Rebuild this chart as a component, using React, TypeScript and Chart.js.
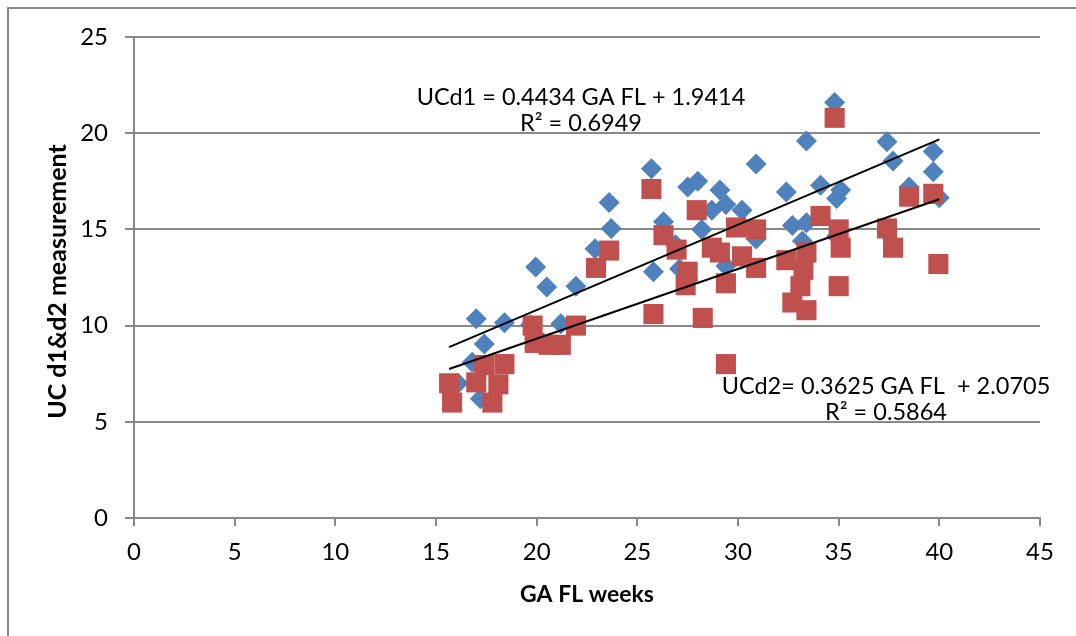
import React, { useEffect, useRef } from "react";
import { Chart, registerables } from "chart.js";

Chart.register(...registerables);

// GA FL weeks (x) and UC d1 measurement (y)
const d1X = [16.1, 16.8, 17.0, 17.4, 17.2, 18.4, 19.7, 21.2, 19.95, 20.5, 21.95, 22.9, 23.6, 23.7, 25.7, 25.8, 26.3, 26.9, 27.1, 27.5, 28.0, 28.2, 28.7, 29.1, 29.4, 29.4, 30.2, 30.9, 30.9, 32.4, 32.7, 33.2, 33.4, 33.4, 34.1, 34.8, 34.9, 34.9, 35.1, 37.4, 37.7, 38.5, 39.7, 39.7, 40.0];
const d1Y = [7.0, 8.1, 10.35, 9.05, 6.2, 10.15, 10.05, 10.1, 13.05, 12.0, 12.05, 14.0, 16.4, 15.05, 18.15, 12.8, 15.4, 14.2, 12.95, 17.2, 17.5, 15.0, 16.0, 17.05, 16.3, 13.1, 16.0, 18.4, 14.5, 16.95, 15.2, 14.4, 15.35, 19.6, 17.3, 21.6, 16.6, 14.65, 17.05, 19.55, 18.55, 17.2, 19.05, 18.0, 16.65];

// GA FL weeks (x) and UC d2 measurement (y)
const d2X = [15.65, 15.8, 17.0, 17.4, 18.4, 18.1, 17.8, 19.8, 19.9, 20.6, 21.2, 21.95, 22.95, 23.6, 25.7, 25.8, 26.3, 26.95, 27.5, 27.4, 27.95, 28.25, 28.7, 29.1, 29.4, 29.4, 29.9, 30.2, 30.9, 30.9, 32.4, 32.7, 33.1, 33.25, 33.4, 33.4, 34.1, 34.8, 35.0, 35.1, 35.0, 37.4, 37.7, 38.5, 39.7, 39.95];
const d2Y = [7.0, 6.0, 7.05, 7.95, 8.0, 6.95, 6.0, 10.0, 9.1, 9.0, 9.0, 10.0, 13.0, 13.9, 17.1, 10.6, 14.7, 13.95, 12.8, 12.1, 16.0, 10.4, 14.05, 13.8, 12.2, 8.0, 15.1, 13.6, 15.0, 13.0, 13.4, 11.2, 12.05, 12.9, 13.8, 10.8, 15.7, 20.8, 15.0, 14.05, 12.05, 15.05, 14.05, 16.7, 16.85, 13.2];

// Linear trend lines shown on the chart: [slope, intercept], over the data range
const trend1 = [0.4434, 1.9414];
const trend2 = [0.3625, 2.0705];
const trendRange = [15.65, 40.0];

const xTicks = [0, 5, 10, 15, 20, 25, 30, 35, 40, 45];
const yTicks = [0, 5, 10, 15, 20, 25];

const xTitle = "GA FL weeks";
const yTitle = "UC d1&d2 measurement";

const eq1 = ["UCd1 = 0.4434 GA FL + 1.9414", "R\u00B2 = 0.6949"];
const eq2 = ["UCd2= 0.3625 GA FL  + 2.0705", "R\u00B2 = 0.5864"];
// anchor positions (data units) for equation labels
const eq1Pos = [22.2, 21.85];
const eq2Pos = [37.35, 6.83];

const FONT = "Lato";
const GRID = "#888888";

function pts(xs: number[], ys: number[]) {
  return xs.map((x, i) => ({ x, y: ys[i] }));
}
function trendPts(c: number[]) {
  return trendRange.map((x) => ({ x, y: c[0] * x + c[1] }));
}

const labelPlugin = {
  id: "eqLabels",
  afterDatasetsDraw(chart: any) {
    const { ctx, scales, chartArea } = chart;
    const sx = scales.x;
    const sy = scales.y;
    ctx.save();
    ctx.fillStyle = "#000";
    ctx.font = `23.5px ${FONT}`;
    ctx.textAlign = "center";
    ctx.textBaseline = "middle";
    const draw = (lines: string[], pos: number[]) => {
      const x = sx.getPixelForValue(pos[0]);
      const y = sy.getPixelForValue(pos[1]);
      lines.forEach((t, i) => ctx.fillText(t, x, y + i * 25.5));
    };
    draw(eq1, eq1Pos);
    draw(eq2, eq2Pos);
    // vertical axis title
    ctx.font = `bold 25px ${FONT}`;
    ctx.translate(chartArea.left - 76, (chartArea.top + chartArea.bottom) / 2 + 4);
    ctx.rotate(-Math.PI / 2);
    ctx.fillText(yTitle, 0, 0);
    ctx.restore();
  },
};

export default function App() {
  const ref = useRef<HTMLCanvasElement>(null);
  useEffect(() => {
    if (!ref.current) return;
    const chart = new Chart(ref.current, {
      type: "scatter",
      data: {
        datasets: [
          {
            type: "line",
            label: "trend d1",
            data: trendPts(trend1),
            borderColor: "#000",
            borderWidth: 2,
            pointRadius: 0,
            order: 0,
          } as any,
          {
            type: "line",
            label: "trend d2",
            data: trendPts(trend2),
            borderColor: "#000",
            borderWidth: 2,
            pointRadius: 0,
            order: 0,
          } as any,
          {
            label: "UC d2",
            data: pts(d2X, d2Y),
            pointStyle: "rect",
            pointRadius: 14.2,
            backgroundColor: "#C0504D",
            borderColor: "#C0504D",
            borderWidth: 0,
            order: 1,
          },
          {
            label: "UC d1",
            data: pts(d1X, d1Y),
            pointStyle: "rectRot",
            pointRadius: 10.5,
            backgroundColor: "#4F81BD",
            borderColor: "#4F81BD",
            borderWidth: 0,
            order: 2,
          },
        ],
      },
      options: {
        responsive: false,
        animation: false,
        layout: { padding: { left: 0, top: 37, right: 36, bottom: 0 } },
        plugins: { legend: { display: false }, tooltip: { enabled: false } },
        scales: {
          x: {
            type: "linear",
            min: 0,
            max: 45,
            afterBuildTicks: (s: any) => {
              s.ticks = xTicks.map((v) => ({ value: v }));
            },
            afterFit: (s: any) => {
              s.height = 118;
            },
            grid: {
              display: true,
              drawOnChartArea: false,
              drawTicks: true,
              tickLength: 8,
              color: GRID,
              lineWidth: 2,
            },
            border: { display: true, color: GRID, width: 2 },
            ticks: {
              padding: 12,
              color: "#000",
              font: { family: FONT, size: 24 },
              maxRotation: 0,
            },
            title: {
              display: true,
              text: xTitle,
              color: "#000",
              font: { family: FONT, size: 23, weight: "bold" },
              padding: { top: 0, bottom: 28 },
            },
          },
          y: {
            type: "linear",
            min: 0,
            max: 25,
            afterBuildTicks: (s: any) => {
              s.ticks = yTicks.map((v) => ({ value: v }));
            },
            afterFit: (s: any) => {
              s.width = 134;
            },
            grid: {
              display: true,
              drawOnChartArea: true,
              drawTicks: true,
              tickLength: 9,
              color: GRID,
              lineWidth: 2,
            },
            border: { display: true, color: GRID, width: 2 },
            ticks: {
              padding: 17,
              color: "#000",
              font: { family: FONT, size: 24 },
            },
            title: { display: false },
          },
        },
      },
      plugins: [labelPlugin],
    });
    return () => chart.destroy();
  }, []);

  return (
    <div style={{ position: "fixed", left: 0, top: 0, width: 1076, height: 636, background: "#fff", overflow: "hidden" }}>
      <canvas ref={ref} width={1076} height={636} style={{ position: "absolute", left: 0, top: 0 }} />
      <div
        style={{
          position: "absolute",
          left: 7,
          top: 7,
          width: 1200,
          height: 800,
          border: "2px solid #888",
          pointerEvents: "none",
        }}
      />
    </div>
  );
}
